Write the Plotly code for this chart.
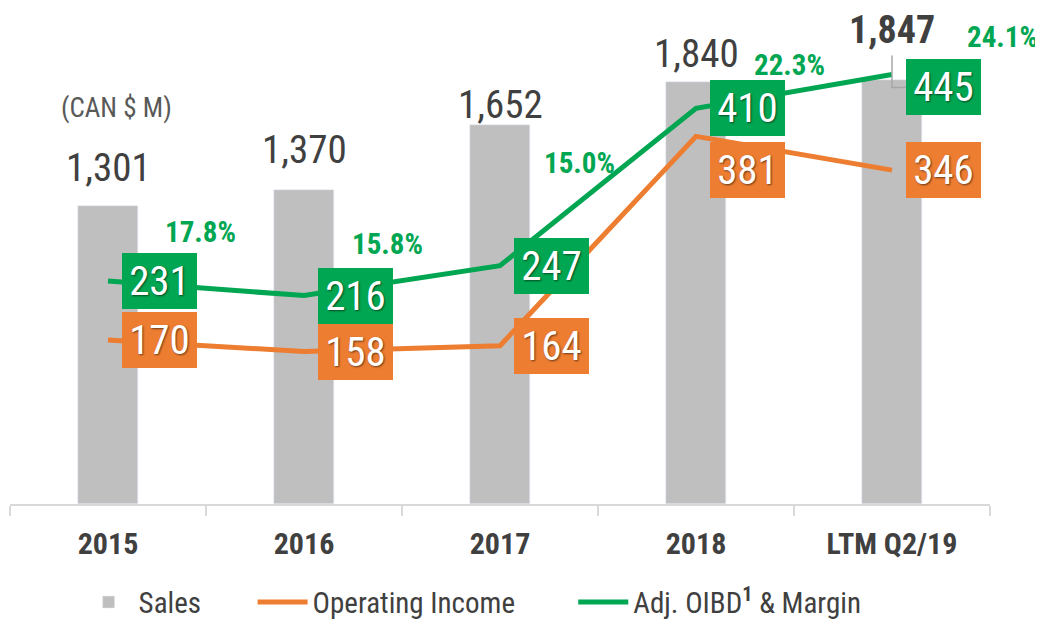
import plotly.graph_objects as go

# data
categories = ["2015", "2016", "2017", "2018", "LTM Q2/19"]
sales = [1301, 1370, 1652, 1840, 1847]
operating_income = [170, 158, 164, 381, 346]
adj_oibd = [231, 216, 247, 410, 445]
margin_pct = [17.8, 15.8, 15.0, 22.3, 24.1]

FONT = "Roboto Condensed, Liberation Sans, Arial, sans-serif"
GRAY_TXT = "#404040"
BAR_GRAY = "#bfbfbf"
ORANGE = "#ed7d31"
GREEN = "#00a651"
SHADOW = "1px 1px 2px rgba(0,0,0,0.55)"
NB = "&nbsp;"

fig = go.Figure()

fig.add_trace(go.Bar(
    x=categories, y=sales, name="Sales" + NB * 7,
    marker_color=BAR_GRAY, width=0.31, yaxis="y",
    hoverinfo="skip",
))
fig.add_trace(go.Scatter(
    x=categories, y=operating_income, name="Operating Income" + NB * 8,
    mode="lines", line=dict(color=ORANGE, width=5), yaxis="y2",
))
fig.add_trace(go.Scatter(
    x=categories, y=adj_oibd, name="Adj. OIBD<sup><b>1</b></sup> & Margin",
    mode="lines", line=dict(color=GREEN, width=5), yaxis="y2",
))

# sales value labels above bars (pixel nudges for label placement)
sales_lift = [38, 40, 20, 28, 50]
for i, v in enumerate(sales):
    last = i == len(sales) - 1
    fig.add_annotation(
        x=i, y=v, yref="y", text=f"<b>{v:,}</b>" if last else f"{v:,}",
        showarrow=False, yanchor="middle", yshift=sales_lift[i],
        font=dict(family=FONT, size=39 if not last else 38, color=GRAY_TXT),
    )

# boxed values for the two lines
green_nudge = [0, 0, 0, 0, -12]
orange_nudge = [0, 0, 0, -34, 0]
for vals, col, nudge in ((adj_oibd, GREEN, green_nudge), (operating_income, ORANGE, orange_nudge)):
    for i, v in enumerate(vals):
        fig.add_annotation(
            x=i, y=v, yref="y2", text=str(v), showarrow=False,
            xshift=51, yshift=nudge[i], width=75, height=56,
            bgcolor=col, borderpad=0, borderwidth=0, valign="middle",
            font=dict(family=FONT, size=41, color="white", shadow=SHADOW),
        )

# margin % labels
pct_dx = [92, 83, 79, 93, 110]
pct_dy = [49, 52, 103, 43, 38]
for i, (v, m) in enumerate(zip(adj_oibd, margin_pct)):
    fig.add_annotation(
        x=i, y=v, yref="y2", text=f"<b>{m:.1f}%</b>", showarrow=False,
        xshift=pct_dx[i], yshift=pct_dy[i],
        font=dict(family=FONT, size=29, color=GREEN),
    )

# unit label
fig.add_annotation(
    x=0.0495, y=0.798, xref="paper", yref="paper", text="(CAN $ M)",
    xanchor="left", yanchor="middle",
    showarrow=False, font=dict(family=FONT, size=27, color="#595959"),
)

# callout connector from 1,847 label to the 445 box
fig.add_shape(
    type="path", xref="x", yref="y",
    xsizemode="pixel", ysizemode="pixel", xanchor=len(sales) - 1, yanchor=sales[-1],
    path="M0,25 L0,-7 L16,-7", line=dict(color="#a6a6a6", width=1.5),
)

# page body has an 8px margin, so the margins are offset to land the plot in place
fig.update_layout(
    width=1043, height=623,
    margin=dict(l=2, r=61, t=0, b=127),
    paper_bgcolor="white", plot_bgcolor="white",
    font=dict(family=FONT, color=GRAY_TXT),
    bargap=0,
    showlegend=True,
    legend=dict(
        orientation="h", x=0.07, y=-0.198, xanchor="left", yanchor="middle",
        font=dict(family=FONT, size=29, color=GRAY_TXT),
        traceorder="normal", itemwidth=50,
    ),
    xaxis=dict(
        type="category", categoryorder="array", categoryarray=categories, range=[-0.5, 4.5],
        showgrid=False, showline=True, linecolor="#d9d9d9", linewidth=2,
        ticks="outside", tickson="boundaries", ticklen=10, tickcolor="#d9d9d9", tickwidth=1.5,
        tickfont=dict(family=FONT, size=30, color=GRAY_TXT, weight="bold"),
        ticklabelstandoff=12, tickangle=0,
    ),
    yaxis=dict(range=[0, 2163], visible=False, showgrid=False),
    yaxis2=dict(range=[0, 514], visible=False, showgrid=False, overlaying="y"),
)

fig.write_html("out.html")
